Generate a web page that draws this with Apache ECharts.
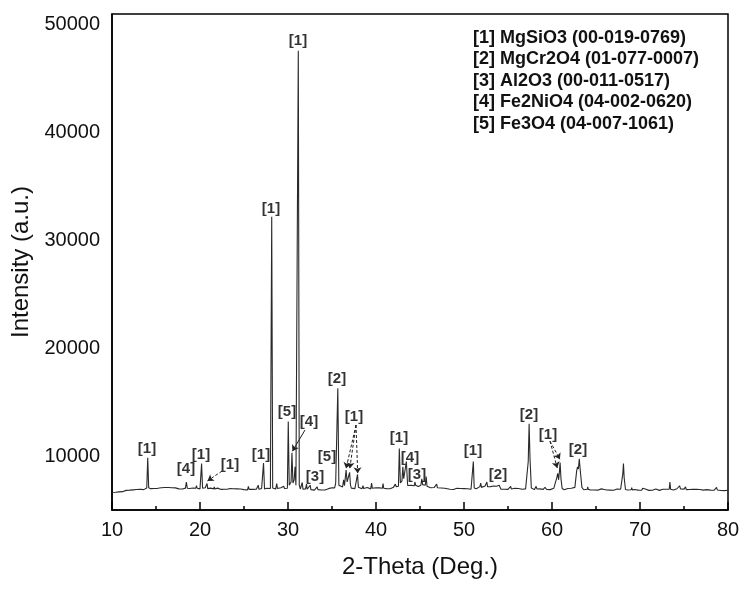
<!DOCTYPE html>
<html>
<head>
<meta charset="utf-8">
<script src="https://cdn.jsdelivr.net/npm/echarts@6/dist/echarts.min.js"></script>
<style>
html,body{margin:0;padding:0;background:#fff;}
#chart{width:750px;height:595px;}
</style>
</head>
<body>
<div id="chart"></div>
<script>
// Baseline intensities, 0.2 deg steps, each segment starts at the given angle
var baseStep = 0.2;
var base10 = [6620,6700,6640,6720,6680,6760,6700,6790,6820,6750,
  6840,6780,6870,6810,6900,6840,6930,6960,6890,6990,
  6970,7060,6980,7080,6990,7090,7010,6970,7070,6980,
  7080,6990,7090,6960,7060,6950,7050,7070,6960,7040,
  6950,7050,6960,7060,6990,6940,7040,7080,6970,7050];
var base20 = [6960,7060,6970,7070,6990,6940,7030,7060,6950,6930,
  7030,6950,6910,7000,6930,6880,6970,6990,6900,6970,
  6880,6960,6860,6950,6980,6890,6960,6870,6940,6990,
  6910,7000,6920,6880,6970,7000,6900,6980,7010,6920,
  7000,6930,7030,6940,7040,6960,7070,6990,6950,7040];
var base30 = [7020,6940,7010,6920,7000,6910,6990,6890,6970,6880,
  6960,6870,6940,6850,6930,6840,6920,6860,6940,6850,
  6930,6860,6950,6980,7020,7070,7120,6980,7170,7030,
  7220,7130,7270,7320,7180,7130,7030,7120,6980,7070,
  7120,7000,6960,7060,6980,7080,6990,6960,7050,6980];
var base40 = [7070,6970,7050,6960,7040,7080,6980,7060,6970,7070,
  7120,7170,7080,7220,7130,7270,7320,7180,7270,7370,
  7280,7230,7370,7280,7180,7270,7130,7220,7080,7030,
  7170,7060,7010,7080,6980,7060,6960,7040,6940,7020,
  6930,7010,6920,7000,6900,6980,7010,6920,6990,6900];
var base50 = [6980,6890,6970,7010,6920,6990,7070,6980,7120,7170,
  7030,7120,7220,7080,7030,7170,7080,7220,7130,7030,
  7020,6930,7010,6920,7000,6910,6990,6900,6980,7010,
  6920,7000,7020,6930,7060,6960,6910,6990,6900,6980,
  6890,6970,6880,6960,7000,6910,6990,6900,6980,6890];
var base60 = [6970,7010,6920,7020,6940,6900,6970,6880,6960,7000,
  6910,7020,7070,7170,7080,7270,6960,6920,6880,6970,
  6870,6950,6860,6940,6850,6930,6840,6920,6960,6860,
  6940,6850,6930,6840,6920,6830,6910,6950,6850,6920,
  6840,6930,6960,6860,6830,6910,6820,6900,6940,6840];
var base70 = [6910,6830,6900,6940,6850,6820,6900,6830,6910,6950,
  6860,6820,6890,6930,6840,6920,6960,6870,6940,6850,
  6930,6970,6880,6960,6860,6940,6850,6820,6900,6830,
  6910,6840,6920,6830,6900,6940,6840,6810,6890,6920,
  6840,6920,6830,6900,6820,6890,6810,6880,6800,6870,
  6830];
var baseSegments = [[10, base10],[20, base20],[30, base30],[40, base40],[50, base50],[60, base60],[70, base70]];

// Peak profiles [2-theta, intensity]
var peaks10_30 = [
  [[13.95,7050],[14.06,9850],[14.17,7060]],
  [[18.35,7030],[18.45,7600],[18.56,7020]],
  [[19.52,7020],[19.6,7250],[19.68,7010]],
  [[20.08,7000],[20.18,9300],[20.29,7020]],
  [[20.72,6990],[20.8,7450],[20.88,6980]],
  [[21.55,6960],[21.62,7150],[21.7,6950]],
  [[22.95,6930],[23.02,7100],[23.1,6920]],
  [[25.44,6930],[25.5,7200],[25.58,6910]],
  [[26.55,6940],[26.62,7300],[26.7,6920]],
  [[27.12,6960],[27.22,9350],[27.33,6950]],
  [[28.04,7000],[28.15,32200],[28.26,7050]],
  [[28.66,7000],[28.72,7450],[28.8,6990]],
  [[29.45,6980],[29.52,7200],[29.6,6990]]
];
var peaks30_50 = [
  [[29.93,7020],[30.03,13200],[30.14,7300],[30.22,7200],[30.35,7600],[30.45,10300],[30.56,7500],[30.7,7800],[30.8,9000],[30.9,7300],[31.06,7200],[31.17,47600],[31.28,7300],[31.4,6950]],
  [[31.55,6950],[31.62,7550],[31.7,6940]],
  [[32.02,6930],[32.1,7400],[32.18,6920]],
  [[32.45,6900],[32.52,7300],[32.6,6890]],
  [[33.25,6910],[33.32,7150],[33.4,6890]],
  [[35.3,7050],[35.42,7500],[35.55,7600],[35.66,16300],[35.78,7300],[35.9,7150]],
  [[36.25,7200],[36.32,7800],[36.42,7250],[36.6,8700],[36.72,7600],[36.9,7500],[37.0,8500],[37.1,7300]],
  [[37.8,7050],[37.9,8300],[38.0,7100]],
  [[38.45,7000],[38.52,7250],[38.6,6990]],
  [[39.42,7000],[39.5,7500],[39.58,7010]],
  [[40.72,7010],[40.8,7450],[40.88,7020]],
  [[42.12,7120],[42.2,7400],[42.3,7150]],
  [[42.55,7200],[42.65,10700],[42.77,7500],[42.95,7700],[43.05,9000],[43.15,7900],[43.32,7800],[43.45,9500],[43.58,7500]],
  [[44.35,7250],[44.42,7600],[44.5,7300]],
  [[45.1,7300],[45.2,7900],[45.3,7350],[45.6,7300],[45.7,8100],[45.8,7200]],
  [[46.82,7050],[46.9,7400],[46.98,7060]],
  [[47.95,6990],[48.02,7150],[48.1,6970]]
];
var peaks50_80 = [
  [[50.96,7000],[51.06,9500],[51.16,7050]],
  [[51.82,7120],[51.9,7500],[51.98,7100]],
  [[52.52,7100],[52.6,7600],[52.68,7150]],
  [[53.5,7150],[53.6,7300],[53.7,7200],[53.9,7250],[54.0,7300],[54.1,7150]],
  [[55.22,6960],[55.3,7200],[55.38,6950]],
  [[56.24,6980],[56.3,7150],[56.38,6990]],
  [[57.15,7000],[57.3,9500],[57.4,13000],[57.5,9800],[57.65,7050]],
  [[58.12,6960],[58.2,7200],[58.28,6950]],
  [[59.12,6930],[59.2,7100],[59.28,6940]],
  [[60.45,6970],[60.55,8000],[60.65,8400],[60.75,7800],[60.85,8600],[60.92,9400],[61.02,7900],[61.15,7000]],
  [[62.6,7100],[62.8,8600],[62.9,9000],[63.0,8800],[63.1,9750],[63.22,8600],[63.4,7100]],
  [[64.0,6920],[64.06,7150],[64.12,6910]],
  [[65.95,6900],[66.02,7080],[66.1,6880]],
  [[67.95,6950],[68.05,8400],[68.12,9300],[68.2,8000],[68.35,6900]],
  [[69.0,6880],[69.06,7080],[69.12,6870]],
  [[70.25,6860],[70.3,7020],[70.36,6850]],
  [[73.32,6920],[73.4,7600],[73.48,6930]],
  [[74.4,6930],[74.5,7250],[74.6,6950]],
  [[75.1,6900],[75.18,7150],[75.26,6890]],
  [[78.62,6870],[78.7,7100],[78.78,6860]]
];

// Phase tags on the peaks: [text, 2-theta, intensity]
var tags = [
  ['[1]',13.98,10650],['[4]',18.41,8790],['[1]',20.11,10090],['[1]',23.41,9160],
  ['[1]',26.93,10090],['[1]',28.07,32950],['[5]',29.89,14090],['[4]',32.39,13160],
  ['[1]',31.14,48550],['[3]',33.07,8050],['[5]',34.43,9910],['[2]',35.57,17150],
  ['[1]',37.5,13620],['[1]',42.61,11670],['[4]',43.86,9810],['[3]',44.66,8230],
  ['[1]',51.02,10460],['[2]',53.86,8230],['[2]',57.39,13810],['[1]',59.55,11950],
  ['[2]',62.95,10560]
];
// Arrows: [from, to, dashed]
var arrows = [
  [[22.5,8610],[20.85,7700],true],
  [[31.93,12415],[30.5,10450],false],
  [[37.73,12880],[36.6,8850],true],
  [[37.73,12880],[37.02,8850],true],
  [[37.73,12880],[37.92,8400],true],
  [[59.77,11390],[60.6,8900],true],
  [[59.77,11390],[60.9,9700],true]
];
var legendLines = [
  '[1] MgSiO3 (00-019-0769)',
  '[2] MgCr2O4 (01-077-0007)',
  '[3] Al2O3 (00-011-0517)',
  '[4] Fe2NiO4 (04-002-0620)',
  '[5] Fe3O4 (04-007-1061)'
];
var xTicks = [10,20,30,40,50,60,70,80];
var yTicks = [10000,20000,30000,40000,50000];

// Assemble the pattern
var peakGroups = peaks10_30.concat(peaks30_50, peaks50_80);
var pts = [];
baseSegments.forEach(function (seg) {
  seg[1].forEach(function (v, i) {
    var x = +(seg[0] + i * baseStep).toFixed(2);
    var inside = peakGroups.some(function (g) { return x >= g[0][0] && x <= g[g.length - 1][0]; });
    if (!inside) pts.push([x, v]);
  });
});
peakGroups.forEach(function (g) { g.forEach(function (p) { pts.push(p); }); });
pts.sort(function (a, b) { return a[0] - b[0]; });

var FONT = '"Liberation Sans", Arial, sans-serif';
var chart = echarts.init(document.getElementById('chart'));
chart.setOption({
  animation: false,
  backgroundColor: '#fff',
  grid: { left: 112, right: 22, top: 14, bottom: 85, show: true, borderColor: '#000', borderWidth: 1.5 },
  xAxis: {
    type: 'value', min: 10, max: 80, interval: 10,
    name: '2-Theta (Deg.)', nameLocation: 'middle', nameGap: 45,
    nameTextStyle: { fontFamily: FONT, fontSize: 24, color: '#111' },
    axisLine: { lineStyle: { color: '#000', width: 1.5 } },
    axisTick: { inside: true, length: 8, lineStyle: { color: '#000', width: 1.5 } },
    minorTick: { show: true, splitNumber: 2, length: 4, lineStyle: { color: '#000', width: 1.5 } },
    splitLine: { show: false },
    axisLabel: { fontFamily: FONT, fontSize: 20, color: '#111', margin: 10,
      formatter: function (v) { return xTicks.indexOf(v) >= 0 ? String(v) : ''; } }
  },
  yAxis: {
    type: 'value', min: 5000, max: 51000, interval: 5000,
    name: 'Intensity (a.u.)', nameLocation: 'middle', nameGap: 72,
    nameTextStyle: { fontFamily: FONT, fontSize: 24, color: '#111' },
    axisLine: { show: true, lineStyle: { color: '#000', width: 1.5 } },
    axisTick: { show: false },
    splitLine: { show: false },
    axisLabel: { fontFamily: FONT, fontSize: 20, color: '#111', margin: 12,
      formatter: function (v) { return yTicks.indexOf(v) >= 0 ? String(v) : ''; } }
  },
  graphic: [{
    type: 'text', left: 473, top: 27,
    style: { text: legendLines.join('\n'), font: 'bold 18px ' + FONT, fill: '#111', lineHeight: 21.5 }
  }],
  series: [
    {
      type: 'line', data: pts, showSymbol: false, symbol: 'none',
      lineStyle: { color: '#2a2a2a', width: 1.1 }, z: 2
    },
    {
      type: 'lines', coordinateSystem: 'cartesian2d', z: 3,
      symbol: ['none', 'arrow'], symbolSize: 6,
      data: arrows.map(function (a) {
        return { coords: [a[0], a[1]], lineStyle: { type: a[2] ? [3, 2] : 'solid' } };
      }),
      lineStyle: { color: '#222', width: 1, opacity: 1 }
    },
    {
      type: 'scatter', z: 4, symbolSize: 1, itemStyle: { color: 'rgba(0,0,0,0)' },
      data: tags.map(function (t) { return { name: t[0], value: [t[1], t[2]] }; }),
      label: { show: true, position: 'inside', formatter: '{b}', fontFamily: FONT,
        fontWeight: 'bold', fontSize: 15, color: '#000', textBorderWidth: 0, textBorderColor: 'transparent' }
    }
  ]
});
</script>
</body>
</html>
